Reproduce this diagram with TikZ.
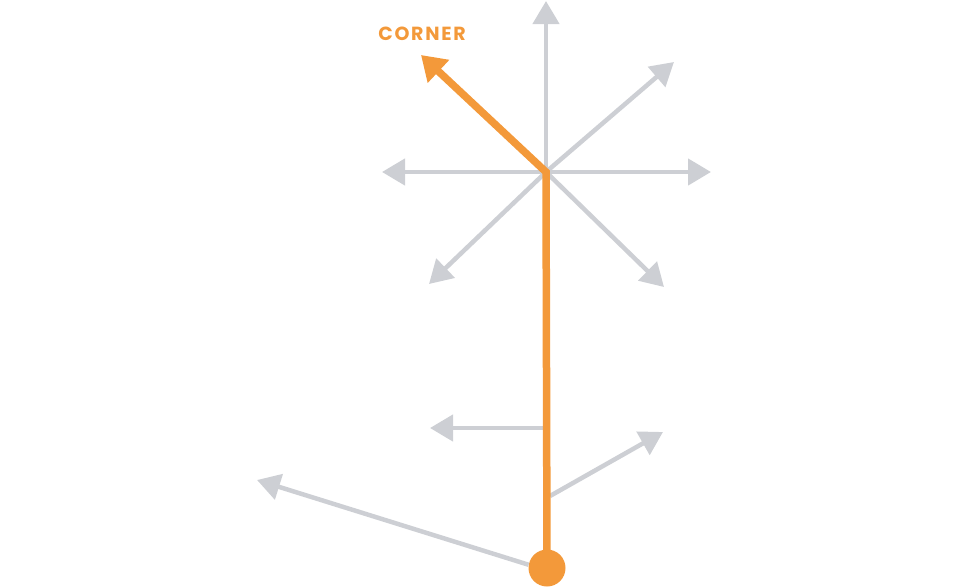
\documentclass[tikz,border=0pt]{standalone}
\usepackage{fontspec}
\newfontfamily\labelfont{Poppins}[UprightFont=* Bold, LetterSpace=9]
\usetikzlibrary{arrows.meta}
\definecolor{ggray}{RGB}{205,207,212}
\definecolor{gorange}{RGB}{243,153,58}
\tikzset{
  grayarrow/.style={draw=ggray, line width=4.5pt, -{Triangle[length=23pt,width=26pt]}},
  orangearrow/.style={draw=gorange, line width=7.5pt, line join=miter, -{Triangle[length=24pt,width=30pt]}},
}
\begin{document}
\begin{tikzpicture}[x=1pt,y=-1pt]
\useasboundingbox (0,0) rectangle (972,587);
\coordinate (c) at (546,172);
\coordinate (up) at (546,1);
\coordinate (rt) at (711,172);
\coordinate (lf) at (382,172);
\coordinate (ur) at (674,62);
\coordinate (dr) at (664,287);
\coordinate (dl) at (429,284);
\coordinate (corner) at (421,55);
\node[circle, fill=gorange, minimum size=37pt, inner sep=0pt] (start) at (547,568) {};
\coordinate (s1) at (544,428);
\coordinate (t1) at (430,428);
\coordinate (s2) at (550,496);
\coordinate (t2) at (663,432);
\coordinate (t3) at (257,480);
\foreach \t in {up,rt,lf,ur,dr,dl} \draw[grayarrow] (c) -- (\t);
\draw[grayarrow] (s1) -- (t1);
\draw[grayarrow] (s2) -- (t2);
\draw[grayarrow] (start.170) -- (t3);
\draw[orangearrow] (start.center) -- (c) -- (corner);
\node[text=gorange, font=\labelfont\fontsize{19}{19}\selectfont, anchor=base, inner sep=0pt] (lbl) at (422,40.7) {CORNER};
\end{tikzpicture}
\end{document}
